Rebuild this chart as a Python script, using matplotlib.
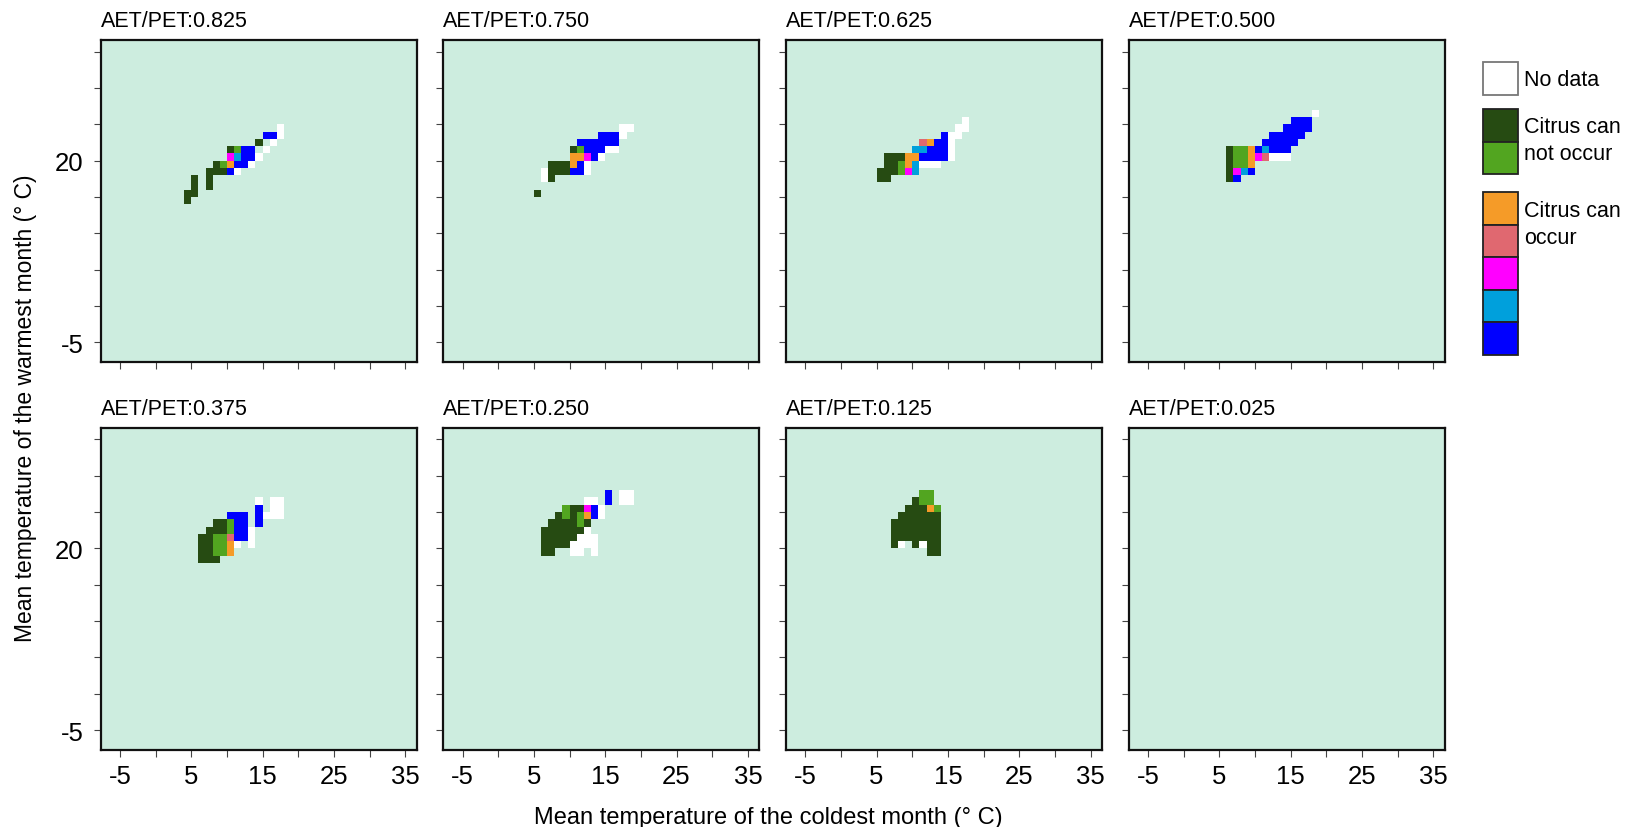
import numpy as np
import matplotlib
matplotlib.use("Agg")
import matplotlib.pyplot as plt
from matplotlib.colors import ListedColormap, BoundaryNorm
from matplotlib.patches import Rectangle

plt.rcParams['font.family'] = ['Liberation Sans', 'DejaVu Sans']

# AET/PET level of each panel
aet_pet = ["0.825", "0.750", "0.625", "0.500", "0.375", "0.250", "0.125", "0.025"]

# cell classes: W no data, D/G citrus can not occur, O/P/M/C/B citrus can occur
class_codes = ["W", "D", "G", "O", "P", "M", "C", "B"]
class_colors = ["#ffffff", "#264b12", "#52a520", "#f59b28",
                "#e06870", "#ff00ff", "#00a0dc", "#0000ff"]

# each panel: (coldest month T of first column, warmest month T of top row), 1 degree cells
origin_0825 = (4, 24)
cells_0825 = [
    ".............W",
    "...........BBW",
    "..........D.W.",
    "......DGBB.W..",
    "......MCBBW...",
    "....DGOBBW....",
    "...DDDBW......",
    ".D.D..........",
    ".D.D..........",
    "DD............",
    "D.............",
]

origin_0750 = (5, 24)
cells_0750 = [
    "............WW",
    ".........BBBW.",
    "......BBBBBB..",
    ".....DGBBBWW..",
    ".....OOMBW....",
    "..DDDOBW......",
    ".WDDDBBW......",
    ".WD...........",
    "..............",
    "D.............",
]

origin_0625 = (5, 25)
cells_0625 = [
    "............W.",
    "...........WW.",
    ".........BWW..",
    "......POBBW...",
    ".....CCBBBW...",
    ".DDDOOBBBBW...",
    ".DDGOCWWW.....",
    "DDDGMC........",
    "DD............",
]

origin_0500 = (6, 26)
cells_0500 = [
    "............W",
    ".........BBB.",
    "........BBBB.",
    "......BBBBB..",
    ".....BBBBB...",
    "DGGOBCBBB....",
    "DGGOMPWWW....",
    "DGGO.........",
    "DMCB.........",
    "DB...........",
]

origin_0375 = (6, 26)
cells_0375 = [
    "........W.WW",
    "........B.WW",
    "....BBB.BWWW",
    "..DDGBB.B...",
    ".DDDGBBW....",
    "DDGGPBBW....",
    "DDGGOW.W....",
    "DDGGO.......",
    "DDD.........",
]

origin_0250 = (6, 27)
cells_0250 = [
    ".........B.WW",
    "......WW.B.WW",
    "...GDDMBW....",
    "..DGDGOBW....",
    ".DDDDGD......",
    "DDDDDDW......",
    "DDDDDWWW.....",
    "DDDDWWWW.....",
    "DD..WW.W.....",
]

origin_0125 = (7, 27)
cells_0125 = [
    "....GG.",
    "...DGG.",
    "..DDDOG",
    ".DDDDDD",
    "DDDDDDD",
    "DDDDDDD",
    "DDDDDDD",
    "DW.DWDD",
    ".....DD",
]

origin_0025 = (0, 0)
cells_0025 = []

panel_cells = [(origin_0825, cells_0825), (origin_0750, cells_0750),
               (origin_0625, cells_0625), (origin_0500, cells_0500),
               (origin_0375, cells_0375), (origin_0250, cells_0250),
               (origin_0125, cells_0125), (origin_0025, cells_0025)]

x_ticks = np.arange(-5, 40, 5)
x_labeled = [-5, 5, 15, 25, 35]
y_ticks = np.arange(-5, 40, 5)
y_labeled = [-5, 20]

legend_labels = ["No data", "Citrus can\nnot occur", "Citrus can\noccur"]

edges = np.arange(-8, 38)
cmap = ListedColormap(class_colors)
norm = BoundaryNorm(np.arange(len(class_codes) + 1) - 0.5, cmap.N)


def build_grid(origin, rows):
    grid = np.full((len(edges) - 1, len(edges) - 1), np.nan)
    x0, ytop = origin
    for i, row in enumerate(rows):
        for j, ch in enumerate(row):
            if ch in class_codes:
                grid[ytop - i - edges[0], x0 + j - edges[0]] = class_codes.index(ch)
    return np.ma.masked_invalid(grid)


fig = plt.figure(figsize=(16.25, 8.28), dpi=100)
W, H = 1625.0, 828.0

col_left = [100.7, 443.3, 786.0, 1128.6]
row_bottom = [363.0, 750.7]
ax_w, ax_h = 316.0, 322.0

for k, (origin, rows) in enumerate(panel_cells):
    r, c = divmod(k, 4)
    ax = fig.add_axes([col_left[c] / W, 1 - row_bottom[r] / H, ax_w / W, ax_h / H])
    ax.set_facecolor("#cdeddf")
    ax.pcolormesh(edges, edges, build_grid(origin, rows), cmap=cmap, norm=norm)
    ax.set_xlim(-7.7, 36.6)
    ax.set_ylim(-7.7, 36.6)

    ax.set_xticks(x_ticks)
    ax.set_yticks(y_ticks)
    if r == 1:
        ax.set_xticklabels([str(v) if v in x_labeled else "" for v in x_ticks])
    else:
        ax.set_xticklabels([])
    if c == 0:
        ax.set_yticklabels([str(v) if v in y_labeled else "" for v in y_ticks])
    else:
        ax.set_yticklabels([])
    ax.tick_params(direction="out", length=5, width=0.8, color="#444444",
                   labelsize=18.5)
    ax.tick_params(axis="x", pad=5)
    ax.tick_params(axis="y", pad=7.5)
    for sp in ax.spines.values():
        sp.set_linewidth(1.6)
        sp.set_color("#111111")

    ax.set_title("AET/PET:" + aet_pet[k], loc="left", fontsize=15.5, pad=10)

fig.text(768 / W, 1 - 818 / H, "Mean temperature of the coldest month (° C)",
         ha="center", va="center", fontsize=17)
fig.text(26 / W, 1 - 408 / H, "Mean temperature of the warmest month (° C)",
         ha="center", va="center", rotation=90, fontsize=16.5)

# legend boxes (pixel rows from top)
box_x, box_w = 1483, 35
box_tops = [63, 110, 142.5, 193, 225.5, 258, 290.5, 323]
box_h = 32.5
for top, color in zip(box_tops, class_colors):
    edge = "#777777" if color == "#ffffff" else "#222222"
    fig.add_artist(Rectangle((box_x / W, 1 - (top + box_h) / H), box_w / W, box_h / H,
                             transform=fig.transFigure, facecolor=color,
                             edgecolor=edge, linewidth=1.3))

label_y = [80, 141, 225]
for text, y in zip(legend_labels, label_y):
    fig.text(1524 / W, 1 - y / H, text, ha="left", va="center", fontsize=15.5,
             linespacing=1.35)

fig.savefig("out.png", dpi=100)
